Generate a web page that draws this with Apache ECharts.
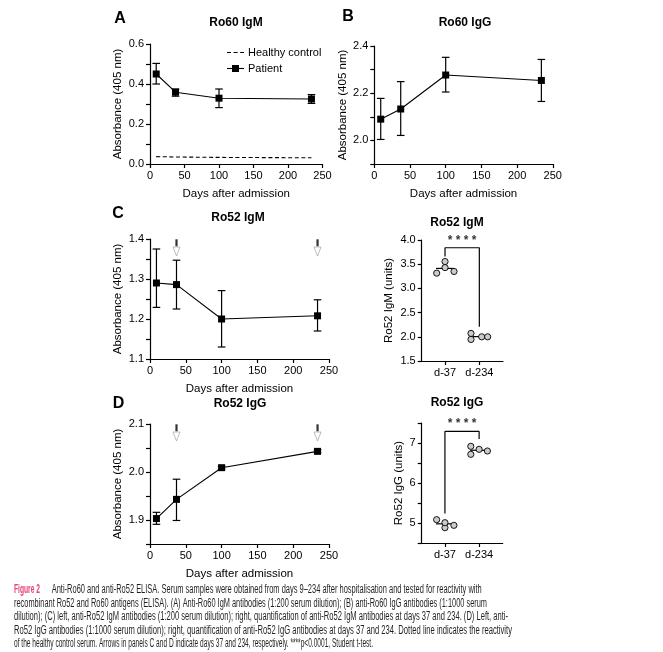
<!DOCTYPE html>
<html><head><meta charset="utf-8">
<script src="https://cdn.jsdelivr.net/npm/echarts@6/dist/echarts.min.js"></script>
<style>html,body{margin:0;padding:0;background:#fff}#c{width:663px;height:652px}</style>
</head><body><div id="c"></div>
<script>
// ---------------- data ----------------
const days = [9, 37, 100, 234];
const ro60IgM = [0.45, 0.359, 0.329, 0.325];
const ro60IgMLow = [0.40, 0.339, 0.282, 0.303];
const ro60IgMHigh = [0.503, 0.375, 0.375, 0.347];
const healthyControl = [0.037, 0.035, 0.033, 0.031];
const ro60IgG = [2.09, 2.133, 2.277, 2.254];
const ro60IgGLow = [2.004, 2.021, 2.205, 2.165];
const ro60IgGHigh = [2.178, 2.249, 2.352, 2.343];
const ro52IgM = [1.29, 1.286, 1.2, 1.208];
const ro52IgMLow = [1.229, 1.225, 1.13, 1.17];
const ro52IgMHigh = [1.375, 1.347, 1.271, 1.248];
const ro52IgG = [1.903, 1.943, 2.009, 2.043];
const ro52IgGLow = [1.891, 1.899, 2.006, 2.040];
const ro52IgGHigh = [1.916, 1.985, 2.012, 2.046];
const arrowDays = [37, 234];
const groups = ['d-37', 'd-234'];
const igmUnitsD37 = [3.315, 3.555, 3.43, 3.35];
const igmUnitsD234 = [2.07, 1.945, 2.0, 2.0];
const iggUnitsD37 = [5.083, 4.883, 5.008, 4.942];
const iggUnitsD234 = [6.917, 6.717, 6.842, 6.8];
const jitterD37 = [-0.243, 0, 0, 0.262];
const jitterIgmD234 = [-0.243, -0.243, 0.068, 0.243];
const jitterIggD234 = [-0.243, -0.243, 0, 0.243];
const igmBracket = [3.66, 3.84, 2.21];   // left foot, top, right foot
const iggBracket = [5.24, 7.29, 7.10];
const sigLabel = '* * * *';
const legendNames = ['Healthy control', 'Patient'];
// tick labels
const dayTicks = [0, 50, 100, 150, 200, 250];
const aYLabels = [0, 0.2, 0.4, 0.6];
const aYTicks = [0, 0.1, 0.2, 0.3, 0.4, 0.5, 0.6];
const bYLabels = [2.0, 2.2, 2.4];
const bYTicks = [1.9, 2.0, 2.1, 2.2, 2.3, 2.4];
const cYLabels = [1.1, 1.2, 1.3, 1.4];
const cYTicks = [1.1, 1.15, 1.2, 1.25, 1.3, 1.35, 1.4];
const dYLabels = [1.9, 2.0, 2.1];
const dYTicks = [1.85, 1.9, 1.95, 2.0, 2.05, 2.1];
const crYLabels = [1.5, 2.0, 2.5, 3.0, 3.5, 4.0];
const drYLabels = [5, 6, 7];
const drYTicks = [4.5, 5, 5.5, 6, 6.5, 7, 7.5];
const captionLines = [
  'Anti-Ro60 and anti-Ro52 ELISA. Serum samples were obtained from days 9\u2013234 after hospitalisation and tested for reactivity with',
  'recombinant Ro52 and Ro60 antigens (ELISA). (A) Anti-Ro60 IgM antibodies (1:200 serum dilution); (B) anti-Ro60 IgG antibodies (1:1000 serum',
  'dilution); (C) left, anti-Ro52 IgM antibodies (1:200 serum dilution); right, quantification of anti-Ro52 IgM antibodies at days 37 and 234. (D) Left, anti-',
  'Ro52 IgG antibodies (1:1000 serum dilution); right, quantification of anti-Ro52 IgG antibodies at days 37 and 234. Dotted line indicates the reactivity',
  'of the healthy control serum. Arrows in panels C and D indicate days 37 and 234, respectively. ****p<0.0001, Student t-test.'
];
// --------------------------------------

const FF = '"Liberation Sans", Arial, sans-serif';
const BLACK = '#000';
const mean = a => a.reduce((s, v) => s + v, 0) / a.length;

const grids = [
  {left: 150, top: 44, width: 172.5, height: 120},   // A
  {left: 374.3, top: 46, width: 178.5, height: 118}, // B
  {left: 150, top: 239, width: 179, height: 120},    // C left
  {left: 421.7, top: 240, width: 81.3, height: 121}, // C right
  {left: 150, top: 424, width: 179, height: 120},    // D left
  {left: 421.7, top: 423, width: 81, height: 120}    // D right
];

const axisLine = {show: true, lineStyle: {color: BLACK, width: 1.2}};
const axisTick = {show: true, length: 4, lineStyle: {color: BLACK, width: 1.2}};
const labelStyle = {color: BLACK, fontSize: 11, fontFamily: FF};
const nameStyle = {color: BLACK, fontSize: 11.5, fontFamily: FF};

function dayAxis(gi) {
  return {type: 'value', gridIndex: gi, min: 0, max: 250, interval: 50,
    axisLine, axisTick, splitLine: {show: false},
    axisLabel: Object.assign({margin: 6, customValues: dayTicks}, labelStyle),
    name: 'Days after admission', nameLocation: 'middle', nameGap: 24, nameTextStyle: nameStyle};
}
function groupAxis(gi) {
  return {type: 'value', gridIndex: gi, min: 0.32, max: 2.69,
    axisLine, splitLine: {show: false},
    axisTick: Object.assign({customValues: [1, 2]}, axisTick),
    axisLabel: Object.assign({margin: 6, customValues: [1, 2], formatter: v => groups[Math.round(v) - 1]}, labelStyle)};
}
function yAxis(gi, min, max, labels, ticks, digits, name, gap) {
  return {type: 'value', gridIndex: gi, min, max,
    axisLine, splitLine: {show: false},
    axisTick: Object.assign({customValues: ticks}, axisTick),
    axisLabel: Object.assign({margin: 6, customValues: labels, formatter: v => v.toFixed(digits)}, labelStyle),
    name, nameLocation: 'middle', nameGap: gap, nameTextStyle: nameStyle};
}

function errSeries(ai, lows, highs) {
  return {type: 'custom', xAxisIndex: ai, yAxisIndex: ai, z: 3, silent: true,
    data: days.map((d, i) => [d, lows[i], highs[i]]),
    encode: {x: 0, y: [1, 2]},
    renderItem(params, api) {
      const x = api.value(0);
      const lo = api.coord([x, api.value(1)]);
      const hi = api.coord([x, api.value(2)]);
      const w = 3.8, st = {stroke: BLACK, lineWidth: 1.2};
      return {type: 'group', children: [
        {type: 'line', shape: {x1: lo[0], y1: lo[1], x2: hi[0], y2: hi[1]}, style: st},
        {type: 'line', shape: {x1: lo[0] - w, y1: lo[1], x2: lo[0] + w, y2: lo[1]}, style: st},
        {type: 'line', shape: {x1: hi[0] - w, y1: hi[1], x2: hi[0] + w, y2: hi[1]}, style: st}
      ]};
    }};
}
function meanSeries(ai, vals, name) {
  return {type: 'line', name: name, xAxisIndex: ai, yAxisIndex: ai, z: 4,
    data: days.map((d, i) => [d, vals[i]]), symbol: 'rect', symbolSize: 7,
    itemStyle: {color: BLACK}, lineStyle: {color: BLACK, width: 1.1}, silent: true};
}
function arrowSeries(ai, top) {
  return [
    {type: 'scatter', xAxisIndex: ai, yAxisIndex: ai, clip: false, z: 5, silent: true,
      data: arrowDays.map(d => [d, top]), symbol: 'rect', symbolSize: [2.2, 7], symbolOffset: [0, 3.8],
      itemStyle: {color: BLACK}},
    {type: 'scatter', xAxisIndex: ai, yAxisIndex: ai, clip: false, z: 5, silent: true,
      data: arrowDays.map(d => [d, top]), symbol: 'path://M0,0L10,0L5,12Z', symbolSize: [7, 9], symbolOffset: [0, 12.5],
      itemStyle: {color: '#fff', borderColor: '#9a9a9a', borderWidth: 0.8}}
  ];
}
function dotSeries(ai, d37, d234, j234, bracket) {
  const pts = d37.map((v, i) => [1 + jitterD37[i], v]).concat(d234.map((v, i) => [2 + j234[i], v]));
  return [
    {type: 'custom', xAxisIndex: ai, yAxisIndex: ai, z: 3, silent: true,
      data: [[1, mean(d37)], [2, mean(d234)]],
      renderItem(params, api) {
        const p = api.coord([api.value(0), api.value(1)]);
        return {type: 'line', shape: {x1: p[0] - 9, y1: p[1], x2: p[0] + 9, y2: p[1]}, style: {stroke: BLACK, lineWidth: 1.2}};
      }},
    {type: 'scatter', xAxisIndex: ai, yAxisIndex: ai, z: 4, silent: true, clip: false,
      data: pts, symbol: 'circle', symbolSize: 6.2,
      itemStyle: {color: '#cbcbcb', borderColor: BLACK, borderWidth: 0.9, opacity: 1}},
    {type: 'line', xAxisIndex: ai, yAxisIndex: ai, z: 3, silent: true, symbol: 'none',
      data: [[1, bracket[0]], [1, bracket[1]], [2, bracket[1]], [2, bracket[2]]],
      lineStyle: {color: BLACK, width: 1.2}},
    {type: 'scatter', xAxisIndex: ai, yAxisIndex: ai, z: 5, silent: true, clip: false,
      data: [[1.5, bracket[1]]], symbolSize: 1, itemStyle: {color: 'rgba(0,0,0,0)'},
      label: {show: true, position: 'top', distance: 1, formatter: sigLabel, color: BLACK,
        fontSize: 12, fontWeight: 'bold', fontFamily: FF}}
  ];
}

const series = [
  {type: 'line', name: legendNames[0], xAxisIndex: 0, yAxisIndex: 0, silent: true,
    data: days.map((d, i) => [d, healthyControl[i]]), symbol: 'none',
    lineStyle: {color: BLACK, width: 1.1, type: [4, 2.6]}, itemStyle: {color: BLACK}},
  errSeries(0, ro60IgMLow, ro60IgMHigh), meanSeries(0, ro60IgM, legendNames[1]),
  errSeries(1, ro60IgGLow, ro60IgGHigh), meanSeries(1, ro60IgG),
  errSeries(2, ro52IgMLow, ro52IgMHigh), meanSeries(2, ro52IgM),
  ...arrowSeries(2, 1.4),
  ...dotSeries(3, igmUnitsD37, igmUnitsD234, jitterIgmD234, igmBracket),
  errSeries(4, ro52IgGLow, ro52IgGHigh), meanSeries(4, ro52IgG),
  ...arrowSeries(4, 2.1),
  ...dotSeries(5, iggUnitsD37, iggUnitsD234, jitterIggD234, iggBracket)
];

// text graphics
const CAPFF = '"Liberation Sans", Arial, sans-serif';
const ctx = document.createElement('canvas').getContext('2d');
function fitScale(text, size, weight, target) {
  ctx.font = weight + ' ' + size + 'px ' + CAPFF;
  return target / ctx.measureText(text).width;
}
const graphics = [];
function txt(x, y, text, size, weight, align) {
  graphics.push({type: 'text', x, y, silent: true,
    style: {text, fontSize: size, fontWeight: weight, fontFamily: FF, fill: BLACK,
      align: align || 'center', verticalAlign: 'middle'}});
}
[['A', 120, 19], ['B', 348, 17], ['C', 118, 214], ['D', 118.5, 404]].forEach(l => txt(l[1], l[2], l[0], 16, 'bold'));
[['Ro60 IgM', 236, 23], ['Ro60 IgG', 465, 23], ['Ro52 IgM', 238, 218], ['Ro52 IgM', 457, 222.5],
 ['Ro52 IgG', 240, 404], ['Ro52 IgG', 457, 403]].forEach(t => txt(t[1], t[2], t[0], 12, 'bold'));

// legend of panel A (drawn by hand)
const lgY = [52.5, 68.5];
graphics.push({type: 'line', silent: true, shape: {x1: 227, y1: lgY[0], x2: 244, y2: lgY[0]},
  style: {stroke: BLACK, lineWidth: 1.1, lineDash: [4, 2.6]}});
graphics.push({type: 'line', silent: true, shape: {x1: 227, y1: lgY[1], x2: 244, y2: lgY[1]},
  style: {stroke: BLACK, lineWidth: 1.1}});
graphics.push({type: 'rect', silent: true, shape: {x: 232, y: lgY[1] - 3.5, width: 7, height: 7}, style: {fill: BLACK}});
legendNames.forEach((n, i) => txt(248, lgY[i], n, 11, 'normal', 'left'));

const capY = [590, 603.5, 617, 630.5, 644];
const capX = [51.7, 14, 14, 14, 14];
const capW = [430, 473, 494, 498, 359];
const CAPSIZE = 12;
graphics.push({type: 'text', x: 14, y: capY[0], silent: true,
  scaleX: fitScale('Figure 2', CAPSIZE, 'bold', 26), originX: 0,
  style: {text: 'Figure 2', fontSize: CAPSIZE, fontWeight: 'bold', fontFamily: CAPFF, fill: '#e4437b', align: 'left', verticalAlign: 'middle'}});
captionLines.forEach((line, i) => {
  graphics.push({type: 'text', x: capX[i], y: capY[i], silent: true,
    scaleX: fitScale(line, CAPSIZE, 'normal', capW[i]), originX: 0,
    style: {text: line, fontSize: CAPSIZE, fontWeight: 'normal', fontFamily: CAPFF, fill: '#231f20', align: 'left', verticalAlign: 'middle'}});
});

const chart = echarts.init(document.getElementById('c'), null, {renderer: 'canvas'});
chart.setOption({
  animation: false,
  backgroundColor: '#fff',
  grid: grids.map(g => Object.assign({containLabel: false}, g)),
  xAxis: [dayAxis(0), dayAxis(1), dayAxis(2), groupAxis(3), dayAxis(4), groupAxis(5)],
  yAxis: [
    yAxis(0, 0, 0.6, aYLabels, aYTicks, 1, 'Absorbance (405 nm)', 26),
    yAxis(1, 1.9, 2.4, bYLabels, bYTicks, 1, 'Absorbance (405 nm)', 23),
    yAxis(2, 1.1, 1.4, cYLabels, cYTicks, 1, 'Absorbance (405 nm)', 26),
    yAxis(3, 1.5, 4.0, crYLabels, crYLabels, 1, 'Ro52 IgM (units)', 27),
    yAxis(4, 1.85, 2.1, dYLabels, dYTicks, 1, 'Absorbance (405 nm)', 26),
    yAxis(5, 4.5, 7.5, drYLabels, drYTicks, 0, 'Ro52 IgG (units)', 16.5)
  ],
  series,
  graphic: graphics
});
</script></body></html>
